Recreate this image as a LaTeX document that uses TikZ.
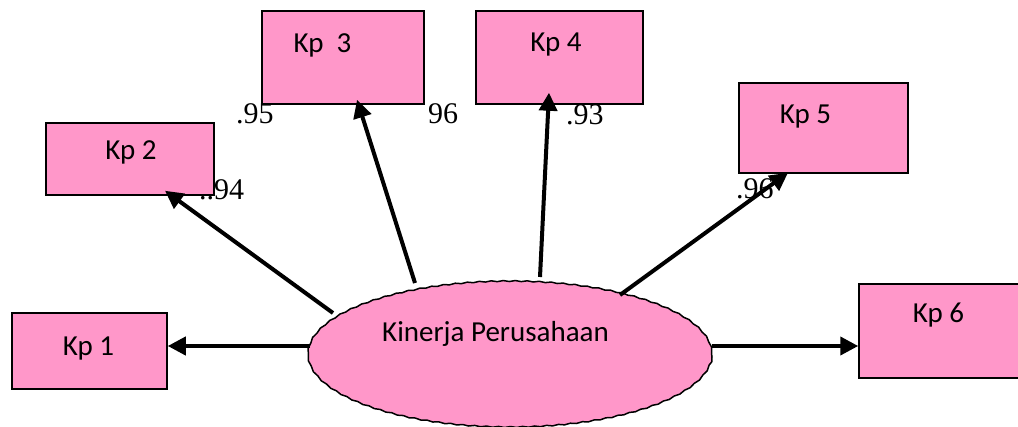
\documentclass[tikz,border=0pt]{standalone}
\usepackage{fontspec}
\setmainfont{Liberation Serif}
\newfontfamily\boxfont{Carlito}
\usetikzlibrary{shapes.geometric,arrows.meta,decorations.pathmorphing}
\definecolor{boxpink}{HTML}{FF97C9}
\begin{document}
\begin{tikzpicture}[x=1pt,y=-1pt,
  itembox/.style={draw=black, line width=1.5pt, fill=boxpink, rectangle, inner sep=0pt},
  itemtext/.style={font=\boxfont\fontsize{29}{32}\selectfont, anchor=base, inner sep=0pt},
  loading/.style={font=\fontsize{30}{32}\selectfont, anchor=base west, inner sep=0pt},
  link/.style={line width=4pt, -{Triangle[length=18pt,width=18pt]}},
]
\useasboundingbox (0,0) rectangle (1018,426);

% indicator boxes
\node[itembox, minimum width=155pt, minimum height=76pt] (K1) at (89.5,351) {};
\node[itembox, minimum width=168pt, minimum height=72pt] (K2) at (130,159) {};
\node[itembox, minimum width=162pt, minimum height=93pt] (K3) at (343,57.5) {};
\node[itembox, minimum width=167pt, minimum height=93pt] (K4) at (559.5,57.5) {};
\node[itembox, minimum width=169pt, minimum height=90pt] (K5) at (823.5,128) {};
\node[itembox, minimum width=181pt, minimum height=94pt] (K6) at (949.5,331) {};

\node[itemtext] (t1) at (88.5,355) {Kp 1};
\node[itemtext] (t2) at (131,159) {Kp 2};
\node[itemtext] (t3) at (322.5,52) {Kp~~3};
\node[itemtext] (t4) at (556,51) {Kp 4};
\node[itemtext] (t5) at (805.5,123) {Kp 5};
\node[itemtext] (t6) at (938.5,322) {Kp 6};

% latent construct
\node[ellipse, draw=black, line width=1.5pt, fill=boxpink, inner sep=0pt,
      minimum width=404pt, minimum height=146pt,
      decorate, decoration={snake, amplitude=0.5pt, segment length=12pt}]
      (E) at (510,357) {};
\node[font=\boxfont\fontsize{29}{32}\selectfont, anchor=base, inner sep=0pt]
      (tE) at (495.5,341) {Kinerja Perusahaan};

% loadings
\node[loading] (l3a) at (236,123) {.95};
\node[loading] (l3b) at (428,123) {96};
\node[loading] (l4) at (566,124) {.93};
\node[loading] (l2) at (199,199) {..94};
\node[loading] (l5) at (736,198) {.96};

% start points of the paths, just off the ellipse
\coordinate (s1) at ([shift={(-200pt,11pt)}]E.center);
\coordinate (s2) at ([shift={(-177pt,44pt)}]E.center);
\coordinate (s3) at ([shift={(-95pt,74pt)}]E.center);
\coordinate (s4) at ([shift={(30pt,80pt)}]E.center);
\coordinate (s5) at ([shift={(110pt,62pt)}]E.center);
\coordinate (s6) at ([shift={(202pt,11pt)}]E.center);

% paths from the construct to its indicators
\draw[link] (s1) -- (s1 -| K1.east);
\draw[link] (s2) -- ([shift={(35pt,5pt)}]K2.south);
\draw[link] (s3) -- ([shift={(14pt,5pt)}]K3.south);
\draw[link] (s4) -- ([shift={(-10.5pt,12pt)}]K4.south);
\draw[link] (s5) -- ([shift={(-35.5pt,1pt)}]K5.south);
\draw[link] (s6) -- (s6 -| K6.west);
\end{tikzpicture}
\end{document}
